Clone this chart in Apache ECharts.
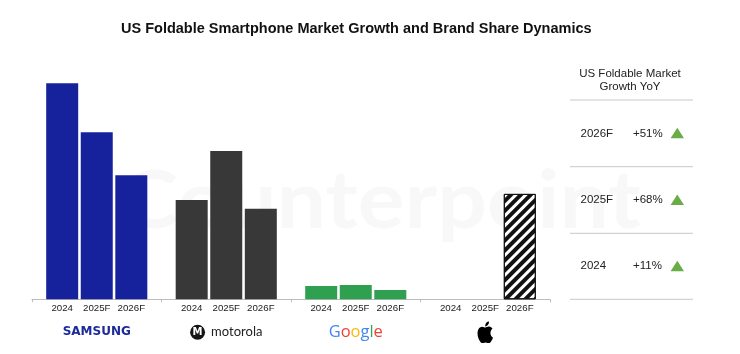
<!DOCTYPE html>
<html><head><meta charset="utf-8">
<script src="https://cdn.jsdelivr.net/npm/echarts@6/dist/echarts.min.js"></script>
<style>html,body{margin:0;padding:0;background:#fff}#c{width:740px;height:354px}</style>
</head><body><div id="c"></div>
<script>
// ---- data ----
const brands = ['Samsung', 'Motorola', 'Google', 'Apple'];
const years = ['2024', '2025F', '2026F'];
const values2024 = [100, 46, 6.2, 0];
const values2025F = [77.3, 68.7, 6.6, 0];
const values2026F = [57.4, 41.9, 4.3, 48.8];
const brandColors = ['#16229c', '#383838', '#2fa04f', '#ffffff'];
const growthYears = ['2026F', '2025F', '2024'];
const growthValues = [51, 68, 11];

const seriesValues = [values2024, values2025F, values2026F];

const appleSvg = 'data:image/svg+xml;utf8,' + encodeURIComponent(
  '<svg xmlns="http://www.w3.org/2000/svg" viewBox="0 0 24 24"><path fill="#000" d="M12.152 6.896c-.948 0-2.415-1.078-3.96-1.04-2.04.027-3.91 1.183-4.961 3.014-2.117 3.675-.546 9.103 1.519 12.09 1.013 1.454 2.208 3.09 3.792 3.039 1.52-.065 2.09-.987 3.935-.987 1.831 0 2.35.987 3.960.948 1.637-.026 2.676-1.48 3.676-2.948 1.156-1.688 1.636-3.325 1.662-3.415-.039-.013-3.182-1.221-3.22-4.857-.026-3.04 2.48-4.494 2.597-4.559-1.429-2.09-3.623-2.324-4.39-2.376-2-.156-3.675 1.090-4.61 1.090zM15.53 3.83c.843-1.012 1.4-2.427 1.245-3.830-1.207.052-2.662.805-3.532 1.818-.78.896-1.454 2.338-1.273 3.714 1.338.104 2.715-.688 3.559-1.701"/></svg>'
);

const chart = echarts.init(document.getElementById('c'));

function barData(vals) {
  return vals.map((v, i) => {
    if (brands[i] === 'Apple') {
      if (!v) return { value: v, itemStyle: { color: 'rgba(0,0,0,0)', borderWidth: 0 } };
      return {
        value: v,
        itemStyle: {
          color: '#ffffff', borderColor: '#111', borderWidth: 1,
          decal: { symbol: 'rect', color: '#111', dashArrayX: [1, 0], dashArrayY: [3.5, 2.5], rotation: -Math.PI / 4, symbolSize: 1 }
        }
      };
    }
    return { value: v, itemStyle: { color: brandColors[i] } };
  });
}

const series = years.map((y, k) => ({
  name: y,
  type: 'bar',
  barWidth: 32,
  barGap: '8%',
  z: 5,
  data: barData(seriesValues[k]),
  label: { show: true, position: 'bottom', distance: 4.5, formatter: '{a}', fontSize: 9.7, color: '#222', fontFamily: 'Liberation Sans' },
  emphasis: { disabled: true }
}));

// watermark + right panel table
const graphic = [];
graphic.push({ type: 'text', x: 120, y: 162, scaleX: 1.095, z: -5, silent: true, style: { text: 'Counterpoint', fontSize: 80, fontWeight: 'bold', fontFamily: 'Lato', fill: '#f8f8f8', verticalAlign: 'top' } });
const px = 570, pw = 123;
graphic.push({ type: 'text', x: 630, y: 67, style: { text: 'US Foldable Market\nGrowth YoY', align: 'center', fontSize: 11.5, lineHeight: 13.5, fill: '#222', fontFamily: 'Liberation Sans' } });
const lineYs = [100, 166.7, 233.3, 299.3];
lineYs.forEach(y => graphic.push({ type: 'line', shape: { x1: px, y1: y, x2: px + pw, y2: y }, style: { stroke: '#c8c8c8', lineWidth: 1 } }));
growthYears.forEach((g, i) => {
  const cy = (lineYs[i] + lineYs[i + 1]) / 2;
  graphic.push({ type: 'text', x: 580.5, y: cy, style: { text: g, fontSize: 11.5, fill: '#222', verticalAlign: 'middle', fontFamily: 'Liberation Sans' } });
  graphic.push({ type: 'text', x: 633, y: cy, style: { text: '+' + growthValues[i] + '%', fontSize: 11.5, fill: '#222', verticalAlign: 'middle', fontFamily: 'Liberation Sans' } });
  graphic.push({ type: 'polygon', shape: { points: [[677.3, cy - 5.5], [684, cy + 5], [670.6, cy + 5]] }, style: { fill: '#6aac46' } });
});

chart.setOption({
  animation: false,
  title: {
    text: 'US Foldable Smartphone Market Growth and Brand Share Dynamics',
    left: 116, top: 16,
    textStyle: { fontSize: 14.5, fontWeight: 'bold', color: '#111', fontFamily: 'Liberation Sans' }
  },
  grid: { left: 32, width: 518, top: 83.3, bottom: 54.7 },
  xAxis: {
    type: 'category',
    data: brands,
    axisLine: { lineStyle: { color: '#bdbdbd' } },
    axisTick: { show: true, length: 3, lineStyle: { color: '#bdbdbd' } },
    axisLabel: {
      interval: 0,
      margin: 33, verticalAlign: 'middle',
      formatter: function (v) {
        if (v === 'Samsung') return '{sam|SAMSUNG}';
        if (v === 'Motorola') return '{mlogo|M}{sp|}{moto|motorola}';
        if (v === 'Google') return '{gb|G}{gr|o}{gy|o}{gb|g}{gg|l}{gr|e}';
        if (v === 'Apple') return '{apple| }';
        return v;
      },
      rich: {
        sam: { fontFamily: 'DejaVu Sans', fontWeight: 'bold', fontSize: 12, color: '#1c2a9a' },
        mlogo: { backgroundColor: '#151515', borderRadius: 7.5, width: 15, height: 15, lineHeight: 15, align: 'center', color: '#fff', fontSize: 10, fontWeight: 'bold', fontFamily: 'DejaVu Sans' },
        sp: { width: 6 },
        moto: { fontSize: 13, color: '#222', fontFamily: 'Lato' },
        gb: { fontSize: 16.5, color: '#4285F4', fontFamily: 'Open Sans' },
        gr: { fontSize: 16.5, color: '#EA4335', fontFamily: 'Open Sans' },
        gy: { fontSize: 16.5, color: '#FBBC05', fontFamily: 'Open Sans' },
        gg: { fontSize: 16.5, color: '#34A853', fontFamily: 'Open Sans' },
        apple: { width: 19, height: 22, backgroundColor: { image: appleSvg } }
      }
    }
  },
  yAxis: { type: 'value', min: 0, max: 100, show: false, splitLine: { show: false } },
  series: series,
  graphic: graphic
});
</script>
</body></html>
